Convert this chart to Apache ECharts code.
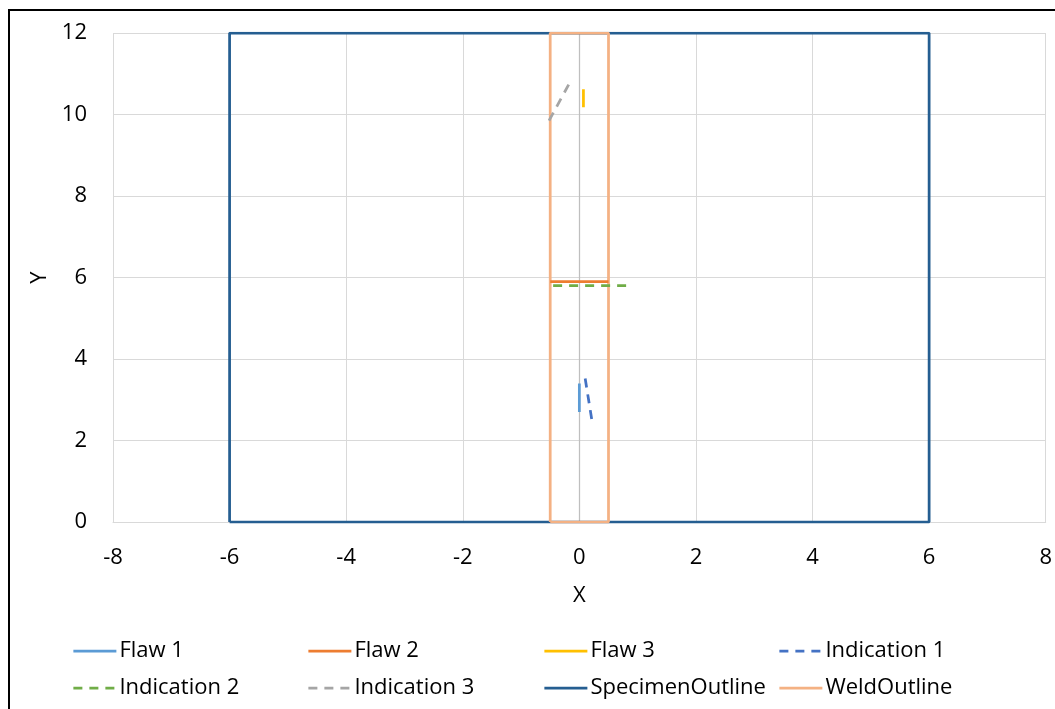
<!DOCTYPE html>
<html>
<head>
<meta charset="utf-8">
<script src="https://cdn.jsdelivr.net/npm/echarts@6/dist/echarts.min.js"></script>
<style>
html,body{margin:0;padding:0;background:#fff;}
#wrap{position:absolute;left:0;top:0;width:1055px;height:709px;}
#frame{position:absolute;left:8px;top:9px;width:1060px;height:720px;border-top:2px solid #000;border-left:2px solid #000;pointer-events:none;}
#chart{position:absolute;left:0;top:0;width:1055px;height:709px;}
</style>
</head>
<body>
<div id="wrap">
<div id="chart"></div>
<div id="frame"></div>
</div>
<script>
// Series data [x, y]
const flaw1 = [[0, 2.7], [0, 3.4]];
const flaw2 = [[-0.5, 5.9], [0.5, 5.9]];
const flaw3 = [[0.07, 10.18], [0.07, 10.62]];
const indication1 = [[0.1, 3.52], [0.22, 2.45]];
const indication2 = [[-0.45, 5.8], [0.82, 5.8]];
const indication3 = [[-0.52, 9.85], [-0.15, 10.82]];
const specimenOutline = [[-6, 0], [6, 0], [6, 12], [-6, 12], [-6, 0]];
const weldOutline = [[-0.5, 0], [0.5, 0], [0.5, 12], [-0.5, 12], [-0.5, 0]];

const seriesNames = ['Flaw 1', 'Flaw 2', 'Flaw 3', 'Indication 1', 'Indication 2', 'Indication 3', 'SpecimenOutline', 'WeldOutline'];
const seriesData = [flaw1, flaw2, flaw3, indication1, indication2, indication3, specimenOutline, weldOutline];
const seriesColors = ['#5B9BD5', '#ED7D31', '#FFC000', '#4472C4', '#70AD47', '#A5A5A5', '#255E91', '#F4B183'];
const seriesDashed = [false, false, false, true, true, true, false, false];

const xTicks = [-8, -6, -4, -2, 0, 2, 4, 6, 8];
const yTicks = [0, 2, 4, 6, 8, 10, 12];

const FONT = '"Open Sans", Lato, sans-serif';
const FS = 22;
const chart = echarts.init(document.getElementById('chart'), null, {renderer: 'canvas'});

// draw order: outlines first, then flaws/indications
const order = [6, 7, 0, 1, 2, 3, 4, 5];
const series = order.map((i, k) => {
  const s = {
    name: seriesNames[i],
    type: 'line',
    data: seriesData[i],
    symbol: 'none',
    silent: true,
    animation: false,
    z: 3 + k,
    color: seriesColors[i],
    lineStyle: {color: seriesColors[i], width: 2.75, type: seriesDashed[i] ? [9, 7] : 'solid', cap: 'butt'},
    itemStyle: {color: seriesColors[i]}
  };
  if (k === 0) {
    s.markLine = {
      silent: true, symbol: 'none', label: {show: false}, animation: false, z: 1,
      lineStyle: {color: '#BFBFBF', width: 1.25, type: 'solid'},
      data: [{xAxis: 0}]
    };
  }
  return s;
});

const colLeft = [72, 307, 543, 778];
const rowTop = [640, 677];
const legends = seriesNames.map((n, i) => ({
  data: [n],
  left: colLeft[i % 4],
  top: rowTop[Math.floor(i / 4)],
  padding: 0,
  itemWidth: 43,
  itemHeight: 22,
  itemGap: 4,
  selectedMode: false,
  textStyle: {fontFamily: FONT, fontSize: FS, color: '#000', padding: [0, 0, 0, -2]},
  itemStyle: {opacity: 0},
  lineStyle: {width: 2.75}
}));

chart.setOption({
  animation: false,
  backgroundColor: '#fff',
  grid: {left: 113, top: 33, right: 9, bottom: 187, containLabel: false},
  legend: legends,
  xAxis: {
    type: 'value', min: -8, max: 8, interval: 2,
    name: 'X', nameLocation: 'middle', nameGap: 63,
    nameTextStyle: {fontFamily: FONT, fontSize: FS, color: '#000'},
    axisLine: {show: true, onZero: false, lineStyle: {color: '#D9D9D9', width: 1}},
    axisTick: {show: false},
    axisLabel: {fontFamily: FONT, fontSize: FS, color: '#000', margin: 25,
      formatter: v => xTicks.includes(v) ? String(v) : ''},
    splitLine: {show: true, lineStyle: {color: '#D9D9D9', width: 1}}
  },
  yAxis: {
    type: 'value', min: 0, max: 12, interval: 2,
    name: 'Y', nameLocation: 'middle', nameGap: 60, nameRotate: 90,
    nameTextStyle: {fontFamily: FONT, fontSize: FS, color: '#000'},
    axisLine: {show: false, onZero: false},
    axisTick: {show: false},
    axisLabel: {fontFamily: FONT, fontSize: FS, color: '#000', margin: 26,
      formatter: v => yTicks.includes(v) ? String(v) : ''},
    splitLine: {show: true, lineStyle: {color: '#D9D9D9', width: 1}}
  },
  series: series
});
</script>
</body>
</html>
